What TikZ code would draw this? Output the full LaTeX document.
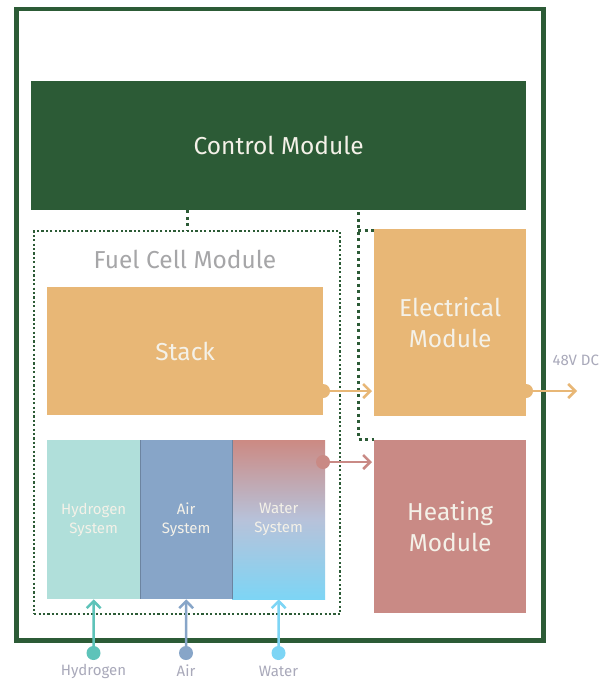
\documentclass[tikz,border=0pt]{standalone}
\usepackage{fontspec}
\setmainfont{Fira Sans}
\usetikzlibrary{arrows.meta}
\definecolor{dgreen}{HTML}{2C5B36}
\definecolor{orng}{HTML}{E8B776}
\definecolor{rose}{HTML}{C98A85}
\definecolor{htwo}{HTML}{B0DFDA}
\definecolor{htwoarrow}{HTML}{5EC3B9}
\definecolor{airc}{HTML}{87A5C8}
\definecolor{waterc}{HTML}{7DD5F5}
\definecolor{watertop}{HTML}{CC8A83}
\definecolor{watermid}{HTML}{B7C2DA}
\definecolor{boxtext}{HTML}{F4F1E8}
\definecolor{graytext}{HTML}{A6A6A8}
\definecolor{labeltext}{HTML}{A9A9BA}
\begin{document}
\begin{tikzpicture}[x=1pt,y=-1pt,
  box/.style={draw=none, inner sep=0pt, anchor=north west, align=center, text=boxtext},
  bigtext/.style={font=\fontsize{24.5}{31}\selectfont},
  systext/.style={font=\fontsize{15}{19}\selectfont},
  ctrldot/.style={draw=dgreen, line width=3pt, dash pattern=on 3pt off 3.5pt},
  flow/.style={line width=2.5pt, -{Straight Barb[length=7pt,width=14pt,line width=2.5pt]}},
  smalllabel/.style={font=\fontsize{15}{17}\selectfont, text=labeltext}
]
\useasboundingbox (0,0) rectangle (606,680);
\fill[white] (0,0) rectangle (606,680);

% outer frame
\node[draw=dgreen, line width=4.5pt, minimum width=527pt, minimum height=631.5pt, anchor=north west, inner sep=0pt] (outer) at (14,6.5) {};

% control module
\node[box, fill=dgreen, minimum width=495pt, minimum height=129pt, bigtext] (ctrl) at (31,81) {Control Module};

% fuel cell module
\node[draw=dgreen, line width=2.2pt, dash pattern=on 2.2pt off 2.2pt, minimum width=306pt, minimum height=383pt, anchor=north west, inner sep=0pt] (fcm) at (33,230) {};
\node[font=\fontsize{24.5}{28}\selectfont, text=graytext] (fcmlabel) at (185,259) {Fuel Cell Module};

% stack
\node[box, fill=orng, minimum width=276pt, minimum height=128pt, bigtext] (stack) at (47,287) {Stack};

% systems
\node[box, fill=htwo, minimum width=93pt, minimum height=159pt, systext] (h2) at (47,440) {Hydrogen\\System};
\node[box, fill=airc, minimum width=92pt, minimum height=159pt, systext] (air) at (140,440) {Air\\System};
\node[box, top color=watertop, bottom color=waterc, middle color=watermid, minimum width=93pt, minimum height=159pt, systext] (water) at (232,440) {Water\\System};
\draw[line width=0.6pt, airc!80!black] (h2.north east) -- (h2.south east);
\draw[line width=0.6pt, airc!80!black] (water.north west) -- (water.south west);

% electrical and heating
\node[box, fill=orng, minimum width=152pt, minimum height=187pt, bigtext] (elec) at (374,229) {Electrical\\Module};
\node[box, fill=rose, minimum width=152pt, minimum height=173pt, bigtext] (heat) at (374,440) {Heating\\Module};

% control connectors
\draw[ctrldot] (ctrl.south -| fcm.north) -- (fcm.north);
\coordinate (cv) at (358,212);
\coordinate (ctop) at (358,230);
\coordinate (cbot) at (358,439);
\draw[ctrldot] (cv) -- (cbot) -- (cbot -| heat.west);
\draw[ctrldot] (ctop) -- (ctop -| elec.west);

% power flows
\coordinate (sdot) at (323,391);
\fill[orng] (sdot) circle (7pt);
\draw[flow, orng] (sdot) -- ([xshift=-2pt]sdot -| elec.west);

\coordinate (edot) at (526,391);
\coordinate (dcout) at (577,391);
\fill[orng] (edot) circle (7pt);
\draw[flow, orng] (edot) -- (dcout);
\node[smalllabel, anchor=west] (dclabel) at (549,360) {48V DC};

\coordinate (wdot) at (323,462);
\fill[rose] (wdot) circle (7pt);
\draw[flow, rose] (wdot) -- ([xshift=-2pt]wdot -| heat.west);

% inputs
\coordinate (h2in) at (93.5,653);
\coordinate (airin) at (186,653);
\coordinate (waterin) at (278.5,653);
\fill[htwoarrow] (h2in) circle (7pt);
\fill[airc] (airin) circle (7pt);
\fill[waterc] (waterin) circle (7pt);
\draw[flow, htwoarrow] (h2in) -- (h2.south);
\draw[flow, airc] (airin) -- (air.south);
\draw[flow, waterc] (waterin) -- (water.south);
\node[smalllabel] (h2label) at (93.5,671) {Hydrogen};
\node[smalllabel] (airlabel) at (186,671) {Air};
\node[smalllabel] (waterlabel) at (278.5,671) {Water};
\end{tikzpicture}
\end{document}
